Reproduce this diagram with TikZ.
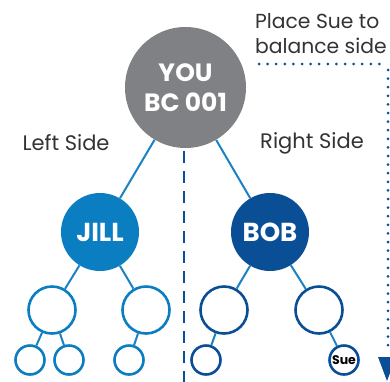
\documentclass[tikz,border=0pt]{standalone}
\usepackage{fontspec}
\setmainfont{Poppins}
\usetikzlibrary{arrows.meta}
\definecolor{yougray}{HTML}{808184}
\definecolor{leftblue}{HTML}{0B7DC1}
\definecolor{rightblue}{HTML}{0A4F95}
\definecolor{linkblue}{HTML}{1A82C4}
\definecolor{labelgray}{HTML}{333335}

\begin{document}
\begin{tikzpicture}[x=1pt,y=-1pt,
    big node/.style={circle,fill=yougray,text=white,minimum size=121pt,inner sep=0pt,align=center,font=\bfseries\fontsize{25}{30}\selectfont},
    main node/.style={circle,text=white,minimum size=78pt,inner sep=0pt,font=\bfseries\fontsize{26}{28}\selectfont},
    mid node/.style={circle,draw,line width=2.6pt,fill=white,minimum size=47pt,inner sep=0pt},
    small node/.style={circle,draw,line width=2.6pt,fill=white,minimum size=29pt,inner sep=0pt,font=\bfseries\fontsize{12.5}{14}\selectfont},
    link/.style={draw=linkblue,line width=2pt},
    side label/.style={text=labelgray,font=\fontsize{21}{25}\selectfont,align=left}]
  \useasboundingbox (0,0) rectangle (390,381);
   % center divider
   \coordinate (top) at (184,151);
   \coordinate (bottom) at (184,383);
   \draw[rightblue,line width=2.6pt,dash pattern=on 12pt off 8pt] (top) -- (bottom);
   % people
   \node[big node] (you) at (185.5,87.5) {YOU\\BC 001};
   \node[main node,fill=leftblue] (jill) at (100,232) {JILL};
   \node[main node,fill=rightblue] (bob) at (270,232) {BOB};
   \node[mid node,draw=leftblue] (a) at (52,310) {};
   \node[mid node,draw=leftblue] (b) at (146,310) {};
   \node[mid node,draw=rightblue] (c) at (224,310) {};
   \node[mid node,draw=rightblue] (d) at (319,310) {};
   \node[small node,draw=leftblue] (a1) at (30,360) {};
   \node[small node,draw=leftblue] (a2) at (69,360) {};
   \node[small node,draw=leftblue] (b1) at (129,360) {};
   \node[small node,draw=rightblue] (c1) at (206,360) {};
   \node[small node,draw=rightblue,text=black] (d1) at (344,360) {Sue};
   % links
   \path[link] (you) -- (jill);
   \path[link] (you) -- (bob);
   \path[link] (jill) -- (a);
   \path[link] (jill) -- (b);
   \path[link] (bob) -- (c);
   \path[link] (bob) -- (d);
   \path[link] (a) -- (a1);
   \path[link] (a) -- (a2);
   \path[link] (b) -- (b1);
   \path[link] (c) -- (c1);
   \path[link] (d) -- (d1);
   % labels
   \node[side label] (left) at (66,143) {Left Side};
   \node[side label] (right) at (312,143) {Right Side};
   \node[side label,anchor=west,inner sep=0pt,font=\fontsize{20.3}{25}\selectfont] (note) at (255,34) {Place Sue to\\balance side};
   % dotted arrow
   \coordinate (p1) at (259,64);
   \coordinate (p2) at (381,64);
   \coordinate (p3) at (388,70);
   \coordinate (p4) at (388,348);
   \coordinate (tip) at (387,381);
   \draw[rightblue,line width=3pt,line cap=round,dash pattern=on 0pt off 8.6pt] (p1) -- (p2);
   \draw[rightblue,line width=3pt,line cap=round,dash pattern=on 0pt off 8.6pt] (p3) -- (p4);
   \fill[rightblue] (378,357) -- (396,357) -- (tip) -- cycle;
\end{tikzpicture}
\end{document}
